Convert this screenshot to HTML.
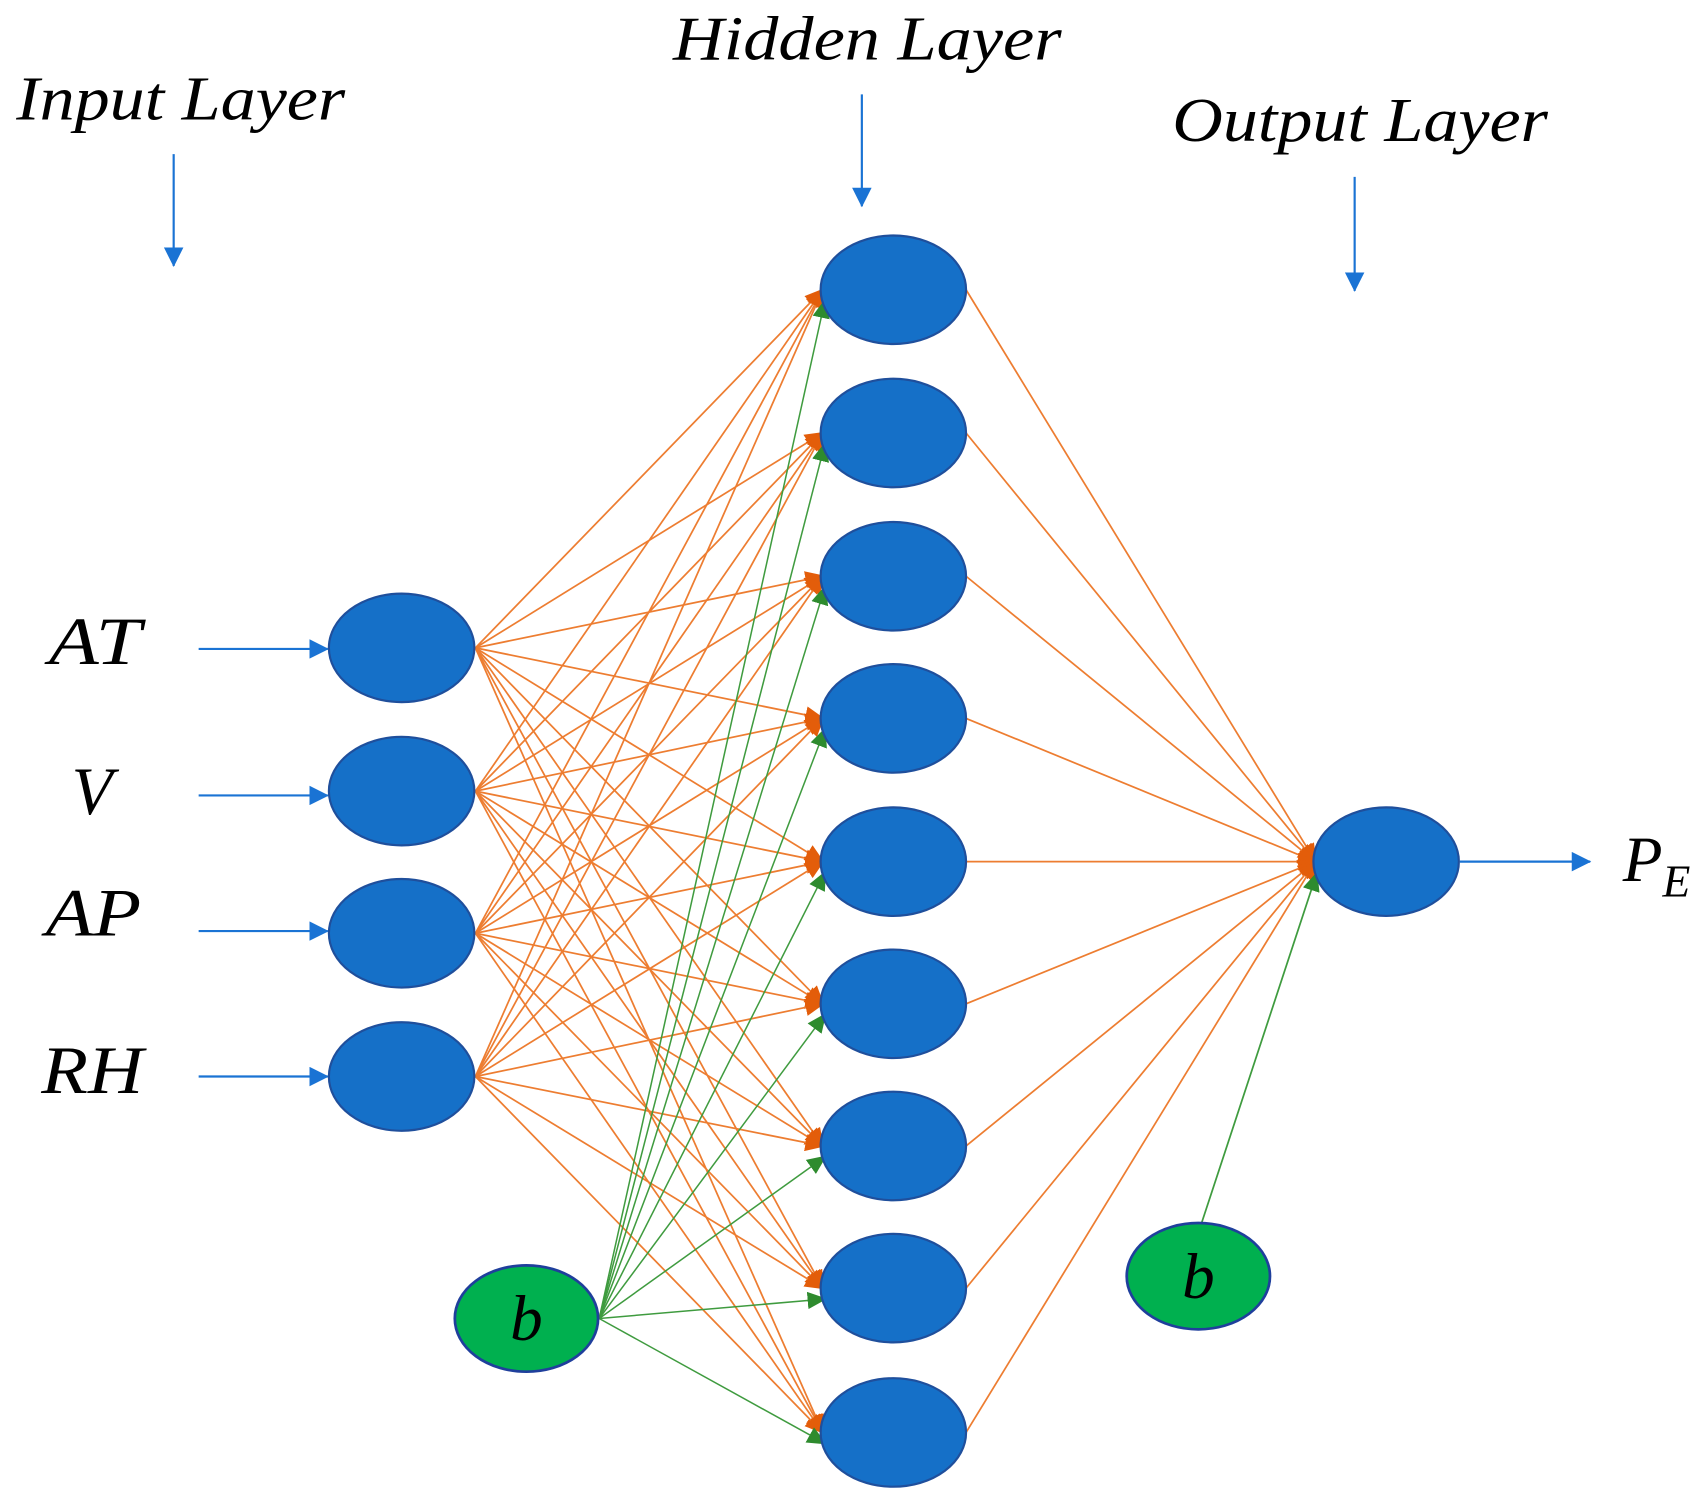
<!DOCTYPE html>
<html><head><meta charset="utf-8"><style>html,body{margin:0;padding:0;background:#fff}svg{display:block}</style></head><body>
<svg width="1702" height="1503" viewBox="0 0 1568 1385" preserveAspectRatio="none" xmlns="http://www.w3.org/2000/svg">
<defs>
<marker id="ao" markerWidth="18" markerHeight="16" refX="16" refY="8" orient="auto" markerUnits="userSpaceOnUse" viewBox="0 0 18 16"><path d="M0,0 L18,8 L0,16 z" fill="#e35d0a"/></marker>
<marker id="ag" markerWidth="18" markerHeight="16" refX="16" refY="8" orient="auto" markerUnits="userSpaceOnUse" viewBox="0 0 18 16"><path d="M0,0 L18,8 L0,16 z" fill="#2e8b2e"/></marker>
<marker id="ab" markerWidth="18" markerHeight="18" refX="17" refY="9" orient="auto" markerUnits="userSpaceOnUse" viewBox="0 0 18 18"><path d="M0,0 L18,9 L0,18 z" fill="#1a73d4"/></marker>
</defs>
<g id="edges"></g>
<g font-family="'Liberation Serif', serif" font-style="italic" fill="#000">
<text x="15" y="110" font-size="58" textLength="303" lengthAdjust="spacingAndGlyphs">Input Layer</text>
<text x="620" y="55" font-size="58" textLength="358" lengthAdjust="spacingAndGlyphs">Hidden Layer</text>
<text x="1080" y="130" font-size="58" textLength="346" lengthAdjust="spacingAndGlyphs">Output Layer</text>
<text x="45" y="612" font-size="62" textLength="85" lengthAdjust="spacingAndGlyphs">AT</text>
<text x="66" y="750" font-size="62">V</text>
<text x="42" y="862" font-size="62" textLength="88" lengthAdjust="spacingAndGlyphs">AP</text>
<text x="38" y="1007" font-size="62" textLength="94" lengthAdjust="spacingAndGlyphs">RH</text>
<text x="1495" y="812" font-size="60">P<tspan font-size="42" dy="14">E</tspan></text>
</g>
<g stroke="#1a73d4" stroke-width="2" marker-end="url(#ab)">
<line x1="160" y1="142" x2="160" y2="245"/>
<line x1="794" y1="87" x2="794" y2="190"/>
<line x1="1248" y1="163" x2="1248" y2="268"/>
<line x1="183" y1="598" x2="302" y2="598"/>
<line x1="183" y1="733" x2="302" y2="733"/>
<line x1="183" y1="858" x2="302" y2="858"/>
<line x1="183" y1="992" x2="302" y2="992"/>
<line x1="1345" y1="794" x2="1465" y2="794"/>
</g>
<g id="nodes"></g>
</svg>
<script>
var NS="http://www.w3.org/2000/svg";
function el(p,t,a){var e=document.createElementNS(NS,t);for(var k in a)e.setAttribute(k,a[k]);p.appendChild(e);return e;}
var E=document.getElementById("edges"),N=document.getElementById("nodes");
var ins=[597,729,860,992],hid=[267,399,531,662,794,925,1056,1187,1320];
ins.forEach(function(iy){hid.forEach(function(hy){el(E,"line",{x1:438,y1:iy,x2:758,y2:hy,stroke:"#ed7d31","stroke-width":1.6,"marker-end":"url(#ao)"});});});
hid.forEach(function(hy){el(E,"line",{x1:552,y1:1215,x2:760,y2:hy+10,stroke:"#3f9b3f","stroke-width":1.4,"marker-end":"url(#ag)"});});
hid.forEach(function(hy){el(E,"line",{x1:890,y1:hy,x2:1212,y2:794,stroke:"#ed7d31","stroke-width":1.6,"marker-end":"url(#ao)"});});
el(E,"line",{x1:1107,y1:1127,x2:1213,y2:805,stroke:"#3f9b3f","stroke-width":1.6,"marker-end":"url(#ag)"});
ins.forEach(function(y){el(N,"ellipse",{cx:370,cy:y,rx:67,ry:50,fill:"#1570c8",stroke:"#1f4f9c","stroke-width":2});});
hid.forEach(function(y){el(N,"ellipse",{cx:823,cy:y,rx:67,ry:50,fill:"#1570c8",stroke:"#1f4f9c","stroke-width":2});});
el(N,"ellipse",{cx:1277,cy:794,rx:67,ry:50,fill:"#1570c8",stroke:"#1f4f9c","stroke-width":2});
[[485,1215],[1104,1176]].forEach(function(p){el(N,"ellipse",{cx:p[0],cy:p[1],rx:66,ry:49,fill:"#00b04f",stroke:"#1f3f9c","stroke-width":2.5});
var t=el(N,"text",{x:p[0],y:p[1]+20,"font-size":60,"font-family":"'Liberation Serif', serif","font-style":"italic","text-anchor":"middle",fill:"#000"});t.textContent="b";});
</script>
</body></html>
